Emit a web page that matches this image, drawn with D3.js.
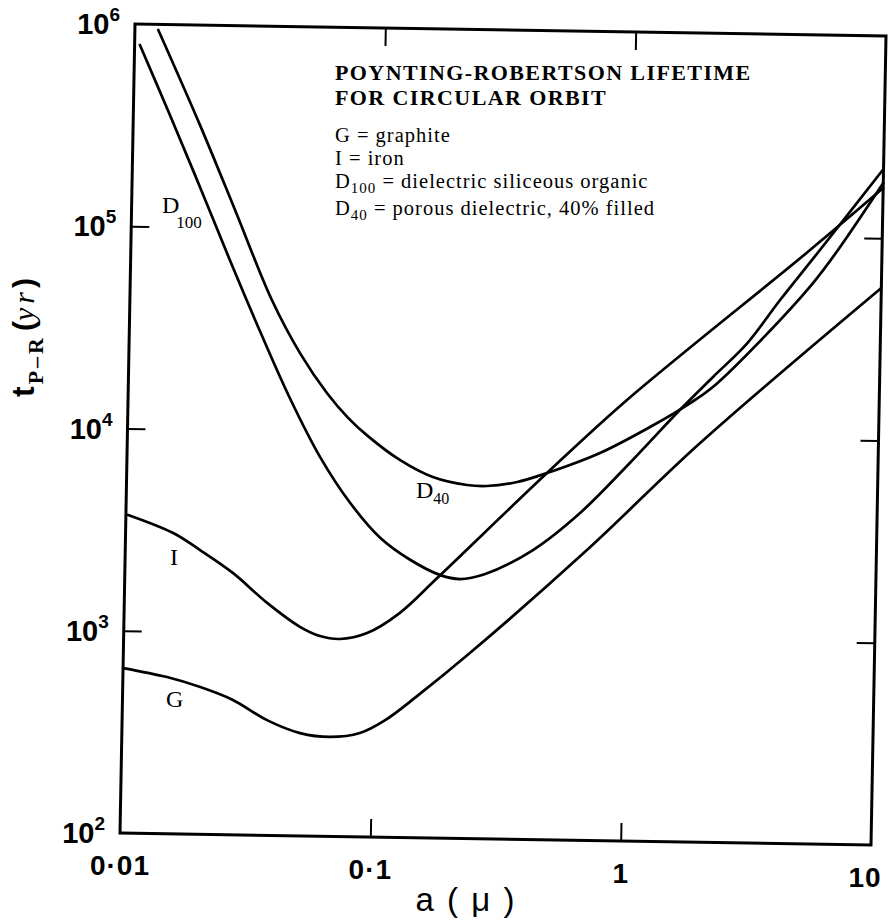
<!DOCTYPE html>
<html><head><meta charset="utf-8">
<script src="https://cdn.jsdelivr.net/npm/d3@7/dist/d3.min.js"></script>
<style>body{margin:0;background:#fff}svg{display:block}</style>
</head><body><svg id="chart" width="891" height="921"></svg>
<script>
// ---- data ----
const xTickValues = [0.01, 0.1, 1, 10];
const xTickLabels = ["0·01", "0·1", "1", "10"];
const yTickValues = [1e2, 1e3, 1e4, 1e5, 1e6];
const yTickExponents = ["2", "3", "4", "5", "6"];
const innerXTicks = [0.1, 1];
const innerYTicks = [1e3, 1e4, 1e5];

// G = graphite
const graphiteA = [0.0100, 0.0150, 0.0204, 0.0276, 0.0379, 0.0515, 0.0679, 0.0893, 0.112, 0.150, 0.242, 0.698, 1.94, 10];
const graphiteT = [654, 595, 534, 464, 371, 322, 310, 326, 378, 501, 826, 2726, 9406, 56800];
// I = iron
const ironA = [0.0102, 0.0155, 0.0199, 0.0270, 0.0372, 0.0505, 0.0608, 0.0731, 0.0937, 0.126, 0.177, 0.477, 0.983, 5.16, 10];
const ironT = [3740, 3070, 2540, 1970, 1410, 1080, 976, 947, 1018, 1286, 1929, 6500, 15150, 86300, 177000];
// D100 = dielectric siliceous organic
const d100A = [0.0105, 0.0140, 0.0187, 0.0249, 0.0333, 0.0444, 0.0590, 0.0784, 0.104, 0.137, 0.182, 0.218, 0.275, 0.425, 0.651, 1.02, 1.60, 2.16, 2.94, 3.95, 5.65, 10];
const d100T = [788000, 357000, 158000, 69300, 30900, 14450, 7500, 4470, 3020, 2370, 1995, 1915, 2037, 2700, 4150, 7400, 13640, 20000, 29500, 48600, 86500, 220000];
// D40 = porous dielectric, 40% filled
const d40A = [0.0124, 0.0185, 0.0261, 0.0369, 0.0483, 0.0623, 0.0759, 0.0906, 0.123, 0.167, 0.229, 0.275, 0.363, 0.477, 0.774, 1.22, 1.76, 2.16, 3.41, 5.33, 6.67, 10];
const d40T = [938000, 320000, 119900, 44300, 24270, 15490, 11750, 9660, 7345, 6080, 5590, 5548, 5838, 6501, 8245, 11180, 14800, 17840, 31600, 59300, 86800, 187500];

const seriesList = [
  {name: "G", a: graphiteA, t: graphiteT},
  {name: "I", a: ironA, t: ironT},
  {name: "D100", a: d100A, t: d100T},
  {name: "D40", a: d40A, t: d40T}
];

// ---- layout (scanned frame is slightly skewed) ----
const W = 751, H = 809;
const ox = 135, oy = 24, skewB = 12 / 751, skewC = -15 / 809;
const P = (px, py) => [px + skewC * py + ox, skewB * px + py + oy];

const svg = d3.select("#chart");
const x = d3.scaleLog().domain([0.01, 10]).range([0, W]);
const y = d3.scaleLog().domain([1e2, 1e6]).range([H, 0]);

const g = svg.append("g")
  .attr("transform", `matrix(1,${skewB},${skewC},1,${ox},${oy})`);

g.append("rect").attr("x", 0).attr("y", 0).attr("width", W).attr("height", H)
  .attr("fill", "none").attr("stroke", "#000").attr("stroke-width", 3);

function styleAxis(sel) {
  sel.select(".domain").remove();
  sel.selectAll("text").remove();
  sel.selectAll("line").attr("stroke", "#000").attr("stroke-width", 2);
}
g.append("g").call(d3.axisLeft(y).tickValues(innerYTicks).tickSize(-18).tickFormat("")).call(styleAxis);
g.append("g").attr("transform", `translate(${W},0)`).call(d3.axisRight(y).tickValues(innerYTicks).tickSize(-18).tickFormat("")).call(styleAxis);
g.append("g").attr("transform", `translate(0,${H})`).call(d3.axisBottom(x).tickValues(innerXTicks).tickSize(-18).tickFormat("")).call(styleAxis);
g.append("g").call(d3.axisTop(x).tickValues(innerXTicks).tickSize(-18).tickFormat("")).call(styleAxis);

const line = d3.line().x(d => x(d[0])).y(d => y(d[1])).curve(d3.curveCatmullRom.alpha(0.5));
seriesList.forEach(s => {
  g.append("path").datum(s.a.map((v, i) => [v, s.t[i]]))
    .attr("d", line).attr("fill", "none").attr("stroke", "#000")
    .attr("stroke-width", 2.7).attr("stroke-linejoin", "round").attr("stroke-linecap", "round");
});

// ---- tick labels ----
const sans = "'Liberation Sans', Arial, sans-serif";
const serif = "'Liberation Serif', 'Times New Roman', serif";
yTickValues.forEach((v, i) => {
  const [px, py] = P(0, y(v));
  const t = svg.append("text").attr("x", px - 15).attr("y", py + 10)
    .attr("text-anchor", "end").attr("font-family", sans).attr("font-weight", "bold")
    .attr("font-size", 29).attr("fill", "#000");
  t.append("tspan").text("10");
  t.append("tspan").attr("dy", -13).attr("font-size", 19).text(yTickExponents[i]);
});
xTickValues.forEach((v, i) => {
  const [px, py] = P(x(v), H);
  svg.append("text").attr("x", px - (i === 3 ? 6 : 0)).attr("y", py + 42)
    .attr("text-anchor", "middle").attr("font-family", sans).attr("font-weight", "bold")
    .attr("font-size", 28).attr("letter-spacing", 1).attr("fill", "#000").text(xTickLabels[i]);
});

// axis titles
svg.append("text").attr("x", 466).attr("y", 911).attr("text-anchor", "middle")
  .attr("font-family", sans).attr("font-size", 33).attr("letter-spacing", 2).attr("fill", "#000")
  .text("a ( μ )");

const yl = svg.append("text").attr("transform", "translate(34,397) rotate(-90)")
  .attr("font-family", sans).attr("font-weight", "bold").attr("fill", "#000");
yl.append("tspan").attr("font-size", 32).text("t");
yl.append("tspan").attr("font-family", serif).attr("font-size", 22).attr("letter-spacing", 3).attr("dy", 9).attr("dx", 2).text("P–R");
yl.append("tspan").attr("font-size", 30).attr("dy", -9).attr("dx", 4).text("(");
yl.append("tspan").attr("font-family", serif).attr("font-style", "italic").attr("font-weight", "normal").attr("font-size", 30).attr("letter-spacing", 4).text("yr");
yl.append("tspan").attr("font-size", 30).text(")");

// ---- legend block ----
const titleLines = ["POYNTING-ROBERTSON LIFETIME", "FOR CIRCULAR ORBIT"];
titleLines.forEach((s, i) => {
  svg.append("text").attr("x", 335).attr("y", 80 + i * 25).attr("font-family", serif)
    .attr("font-weight", "bold").attr("font-size", 22).attr("letter-spacing", 1.4)
    .attr("fill", "#000").text(s);
});
const legendRows = [
  {main: "G", sub: "", rest: " = graphite", y: 142},
  {main: "I", sub: "", rest: " = iron", y: 165},
  {main: "D", sub: "100", rest: " = dielectric siliceous organic", y: 188},
  {main: "D", sub: "40", rest: " = porous dielectric, 40% filled", y: 215}
];
legendRows.forEach(r => {
  const t = svg.append("text").attr("x", 335).attr("y", r.y).attr("font-family", serif)
    .attr("font-size", 20.5).attr("letter-spacing", 1).attr("fill", "#000");
  t.append("tspan").text(r.main);
  if (r.sub) {
    t.append("tspan").attr("font-size", 15).attr("dy", 5).text(r.sub);
    t.append("tspan").attr("dy", -5).text(r.rest);
  } else {
    t.append("tspan").text(r.rest);
  }
});

// ---- curve labels ----
function curveLabel(px, py, main, sub, subSize, subDy, subDx) {
  const t = svg.append("text").attr("x", px).attr("y", py).attr("font-family", serif)
    .attr("font-size", 24).attr("fill", "#000");
  t.append("tspan").text(main);
  if (sub) t.append("tspan").attr("font-size", subSize).attr("dy", subDy).attr("dx", subDx).text(sub);
}
curveLabel(162, 213, "D", "100", 17, 15, -3);
curveLabel(416, 498, "D", "40", 16, 6, 0);
curveLabel(170, 565, "I", "", 0, 0, 0);
curveLabel(166, 707, "G", "", 0, 0, 0);
</script>
</body></html>
